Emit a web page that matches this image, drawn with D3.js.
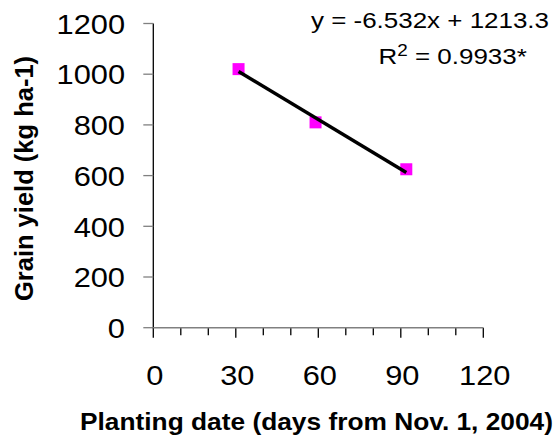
<!DOCTYPE html>
<html>
<head>
<meta charset="utf-8">
<script src="https://cdn.jsdelivr.net/npm/d3@7"></script>
<style>
  html, body { margin: 0; padding: 0; background: #fff; }
  svg { display: block; }
  text { font-family: Arial, "Liberation Sans", sans-serif; fill: #000; }
</style>
</head>
<body>
<svg id="chart" width="558" height="439"></svg>
<script>
// Planting date (days from Nov. 1, 2004) and grain yield (kg ha-1)
const plantingDays = [31, 59, 92];
const grainYield = [1020, 810, 625];

// Fitted linear trend
const slope = -6.532;
const intercept = 1213.3;
const r2Label = "0.9933";

// Axis ticks
const yTicks = [0, 200, 400, 600, 800, 1000, 1200];
const xTickLabels = [0, 30, 60, 90, 120];
const xMinorTicks = [0, 10, 20, 30, 40, 50, 60, 70, 80, 90, 100, 110, 120];

// Text is drawn slightly wide, as in the original figure
const wide = 1.1;
const wideEq = 1.18;

const svg = d3.select("#chart");

const x = d3.scaleLinear().domain([0, 120]).range([153.3, 483.3]);
const y = d3.scaleLinear().domain([0, 1200]).range([327.7, 23.5]);

// Y axis: black spine, grey outward ticks
const yAxis = svg.append("g");
yAxis.append("line")
  .attr("x1", x(0)).attr("x2", x(0))
  .attr("y1", y(1200)).attr("y2", y(0))
  .attr("stroke", "#000").attr("stroke-width", 1.3);
yAxis.selectAll("line.tick").data(yTicks).enter().append("line")
  .attr("class", "tick")
  .attr("x1", x(0) - 10).attr("x2", x(0))
  .attr("y1", d => y(d)).attr("y2", d => y(d))
  .attr("stroke", "#808080").attr("stroke-width", 1.3);
yAxis.selectAll("text").data(yTicks).enter().append("text")
  .attr("transform", d => `translate(125,${y(d) + 10.2}) scale(${wide},1)`)
  .attr("text-anchor", "end")
  .style("font-size", "28px")
  .text(d => d);

// X axis: grey spine, black downward ticks
const xAxis = svg.append("g");
xAxis.selectAll("line.tick").data(xMinorTicks).enter().append("line")
  .attr("class", "tick")
  .attr("x1", d => x(d)).attr("x2", d => x(d))
  .attr("y1", y(0))
  .attr("y2", d => y(0) + (d % 30 === 0 ? 10 : 7.5))
  .attr("stroke", "#000").attr("stroke-width", 1.3);
xAxis.append("line")
  .attr("x1", x(0)).attr("x2", x(120))
  .attr("y1", y(0)).attr("y2", y(0))
  .attr("stroke", "#808080").attr("stroke-width", 1.6);
xAxis.selectAll("text").data(xTickLabels).enter().append("text")
  .attr("transform", d => `translate(${x(d) + 1.5},385) scale(${wide},1)`)
  .attr("text-anchor", "middle")
  .style("font-size", "28px")
  .text(d => d);

// Axis titles
svg.append("text")
  .attr("x", 80)
  .attr("y", 430)
  .attr("textLength", 473)
  .attr("lengthAdjust", "spacingAndGlyphs")
  .style("font-size", "24.5px")
  .style("font-weight", "bold")
  .text("Planting date (days from Nov. 1, 2004)");

svg.append("text")
  .attr("transform", "translate(33,178.5) rotate(-90)")
  .attr("text-anchor", "middle")
  .style("font-size", "25.5px")
  .style("font-weight", "bold")
  .text("Grain yield (kg ha-1)");

// Observed points
const data = plantingDays.map((d, i) => ({ x: d, y: grainYield[i] }));
svg.selectAll("rect.pt").data(data).enter().append("rect")
  .attr("class", "pt")
  .attr("x", d => x(d.x) - 6)
  .attr("y", d => y(d.y) - 6)
  .attr("width", 12).attr("height", 12)
  .attr("fill", "#ff00ff");

// Trend line over the observed date range, on top of the markers
const xMin = d3.min(plantingDays), xMax = d3.max(plantingDays);
svg.append("line")
  .attr("x1", x(xMin)).attr("y1", y(slope * xMin + intercept))
  .attr("x2", x(xMax)).attr("y2", y(slope * xMax + intercept))
  .attr("stroke", "#000").attr("stroke-width", 3.5);

// Equation labels
svg.append("text")
  .attr("transform", `translate(311,27.5) scale(${wideEq},1)`)
  .style("font-size", "22px")
  .text(`y = ${slope}x + ${intercept}`);

const r2 = svg.append("text")
  .attr("transform", `translate(378.5,63.8) scale(${wideEq},1)`)
  .style("font-size", "22px");
r2.append("tspan").text("R");
r2.append("tspan").attr("dy", -8).style("font-size", "16px").text("2");
r2.append("tspan").attr("dy", 8).text(` = ${r2Label}*`);
</script>
</body>
</html>
